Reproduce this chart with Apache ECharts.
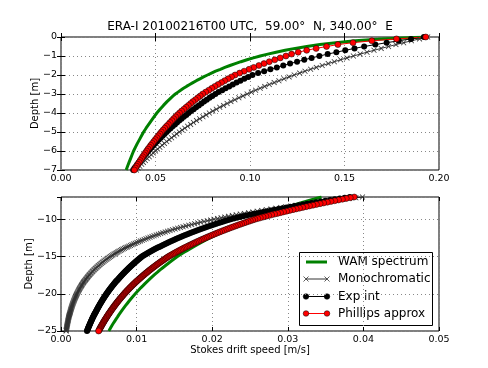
<!DOCTYPE html>
<html>
<head>
<meta charset="UTF-8">
<title>Stokes drift profiles</title>
<script src="https://cdn.jsdelivr.net/npm/echarts@6.0.0/dist/echarts.min.js"></script>
<style>
* { padding: 0; margin: 0; }
#main { width: 488px; height: 368px; }
</style>
</head>
<body>
<div id="main"></div>
<script>
// depth levels [m]
var depthTop = [
  0, -0.1, -0.2, -0.3, -0.4, -0.5, -0.6, -0.7, -0.8, -0.9,
  -1, -1.1, -1.2, -1.3, -1.4, -1.5, -1.6, -1.7, -1.8, -1.9,
  -2, -2.1, -2.2, -2.3, -2.4, -2.5, -2.6, -2.7, -2.8, -2.9,
  -3, -3.1, -3.2, -3.3, -3.4, -3.5, -3.6, -3.7, -3.8, -3.9,
  -4, -4.1, -4.2, -4.3, -4.4, -4.5, -4.6, -4.7, -4.8, -4.9,
  -5, -5.1, -5.2, -5.3, -5.4, -5.5, -5.6, -5.7, -5.8, -5.9,
  -6, -6.1, -6.2, -6.3, -6.4, -6.5, -6.6, -6.7, -6.8, -6.9,
  -7
];
var depthBottom = [
  -7, -7.1, -7.2, -7.3, -7.4, -7.5, -7.6, -7.7, -7.8, -7.9,
  -8, -8.1, -8.2, -8.3, -8.4, -8.5, -8.6, -8.7, -8.8, -8.9,
  -9, -9.1, -9.2, -9.3, -9.4, -9.5, -9.6, -9.7, -9.8, -9.9,
  -10, -10.1, -10.2, -10.3, -10.4, -10.5, -10.6, -10.7, -10.8, -10.9,
  -11, -11.1, -11.2, -11.3, -11.4, -11.5, -11.6, -11.7, -11.8, -11.9,
  -12, -12.1, -12.2, -12.3, -12.4, -12.5, -12.6, -12.7, -12.8, -12.9,
  -13, -13.1, -13.2, -13.3, -13.4, -13.5, -13.6, -13.7, -13.8, -13.9,
  -14, -14.1, -14.2, -14.3, -14.4, -14.5, -14.6, -14.7, -14.8, -14.9,
  -15, -15.1, -15.2, -15.3, -15.4, -15.5, -15.6, -15.7, -15.8, -15.9,
  -16, -16.1, -16.2, -16.3, -16.4, -16.5, -16.6, -16.7, -16.8, -16.9,
  -17, -17.1, -17.2, -17.3, -17.4, -17.5, -17.6, -17.7, -17.8, -17.9,
  -18, -18.1, -18.2, -18.3, -18.4, -18.5, -18.6, -18.7, -18.8, -18.9,
  -19, -19.1, -19.2, -19.3, -19.4, -19.5, -19.6, -19.7, -19.8, -19.9,
  -20, -20.1, -20.2, -20.3, -20.4, -20.5, -20.6, -20.7, -20.8, -20.9,
  -21, -21.1, -21.2, -21.3, -21.4, -21.5, -21.6, -21.7, -21.8, -21.9,
  -22, -22.1, -22.2, -22.3, -22.4, -22.5, -22.6, -22.7, -22.8, -22.9,
  -23, -23.1, -23.2, -23.3, -23.4, -23.5, -23.6, -23.7, -23.8, -23.9,
  -24, -24.1, -24.2, -24.3, -24.4, -24.5, -24.6, -24.7, -24.8, -24.9,
  -25
];

// Stokes drift speed [m/s], upper panel (0 to -7 m)
var wamTop = [
  0.1930, 0.1695, 0.1557, 0.1454, 0.1370, 0.1300, 0.1239, 0.1186, 0.1138, 0.1094,
  0.1054, 0.1018, 0.0984, 0.0952, 0.0922, 0.0894, 0.0867, 0.0843, 0.0818, 0.0796,
  0.0775, 0.0754, 0.0735, 0.0716, 0.0698, 0.0681, 0.0664, 0.0648, 0.0633, 0.0619,
  0.0605, 0.0593, 0.0582, 0.0572, 0.0561, 0.0551, 0.0542, 0.0533, 0.0524, 0.0515,
  0.0507, 0.0500, 0.0492, 0.0485, 0.0478, 0.0471, 0.0464, 0.0457, 0.0450, 0.0443,
  0.0437, 0.0431, 0.0426, 0.0420, 0.0415, 0.0410, 0.0404, 0.0399, 0.0394, 0.0389,
  0.0384, 0.0380, 0.0376, 0.0372, 0.0368, 0.0364, 0.0360, 0.0356, 0.0352, 0.0348,
  0.0345
];
var monoTop = [
  0.1940, 0.1897, 0.1854, 0.1813, 0.1772, 0.1733, 0.1694, 0.1656, 0.1619, 0.1583,
  0.1547, 0.1513, 0.1479, 0.1446, 0.1414, 0.1382, 0.1351, 0.1321, 0.1291, 0.1263,
  0.1234, 0.1207, 0.1180, 0.1153, 0.1128, 0.1102, 0.1078, 0.1054, 0.1030, 0.1007,
  0.0985, 0.0963, 0.0941, 0.0920, 0.0899, 0.0879, 0.0860, 0.0840, 0.0822, 0.0803,
  0.0785, 0.0768, 0.0751, 0.0734, 0.0717, 0.0701, 0.0686, 0.0670, 0.0655, 0.0641,
  0.0626, 0.0612, 0.0599, 0.0585, 0.0572, 0.0559, 0.0547, 0.0535, 0.0523, 0.0511,
  0.0500, 0.0488, 0.0478, 0.0467, 0.0456, 0.0446, 0.0436, 0.0427, 0.0417, 0.0408,
  0.0399
];
var expTop = [
  0.1920, 0.1852, 0.1787, 0.1723, 0.1663, 0.1604, 0.1553, 0.1504, 0.1457, 0.1411,
  0.1367, 0.1326, 0.1287, 0.1249, 0.1212, 0.1176, 0.1142, 0.1108, 0.1075, 0.1043,
  0.1013, 0.0991, 0.0970, 0.0949, 0.0929, 0.0909, 0.0890, 0.0871, 0.0853, 0.0834,
  0.0817, 0.0801, 0.0786, 0.0771, 0.0757, 0.0743, 0.0729, 0.0715, 0.0702, 0.0688,
  0.0675, 0.0663, 0.0650, 0.0638, 0.0626, 0.0614, 0.0603, 0.0591, 0.0580, 0.0569,
  0.0559, 0.0548, 0.0538, 0.0528, 0.0518, 0.0508, 0.0498, 0.0489, 0.0480, 0.0471,
  0.0462, 0.0453, 0.0445, 0.0436, 0.0428, 0.0420, 0.0412, 0.0404, 0.0397, 0.0389,
  0.0382
];
var phillipsTop = [
  0.1930, 0.1775, 0.1645, 0.1545, 0.1465, 0.1405, 0.1350, 0.1300, 0.1255, 0.1220,
  0.1190, 0.1160, 0.1131, 0.1102, 0.1074, 0.1047, 0.1020, 0.0995, 0.0969, 0.0945,
  0.0921, 0.0902, 0.0884, 0.0866, 0.0849, 0.0831, 0.0814, 0.0798, 0.0782, 0.0766,
  0.0750, 0.0737, 0.0724, 0.0711, 0.0698, 0.0686, 0.0674, 0.0662, 0.0650, 0.0638,
  0.0627, 0.0616, 0.0606, 0.0596, 0.0587, 0.0577, 0.0568, 0.0558, 0.0549, 0.0540,
  0.0531, 0.0523, 0.0515, 0.0507, 0.0499, 0.0491, 0.0483, 0.0475, 0.0468, 0.0460,
  0.0453, 0.0446, 0.0439, 0.0432, 0.0426, 0.0419, 0.0413, 0.0406, 0.0400, 0.0394,
  0.0388
];

// lower panel (-7 to -25 m)
var wamBottom = [
  0.03446, 0.03410, 0.03374, 0.03339, 0.03304, 0.03270, 0.03236, 0.03202, 0.03168, 0.03136,
  0.03103, 0.03071, 0.03038, 0.03007, 0.02975, 0.02944, 0.02913, 0.02883, 0.02853, 0.02823,
  0.02793, 0.02764, 0.02735, 0.02707, 0.02678, 0.02651, 0.02623, 0.02596, 0.02568, 0.02542,
  0.02515, 0.02491, 0.02466, 0.02442, 0.02418, 0.02395, 0.02371, 0.02348, 0.02325, 0.02303,
  0.02280, 0.02258, 0.02236, 0.02214, 0.02192, 0.02171, 0.02150, 0.02129, 0.02108, 0.02088,
  0.02067, 0.02047, 0.02027, 0.02008, 0.01988, 0.01969, 0.01949, 0.01930, 0.01911, 0.01893,
  0.01874, 0.01856, 0.01838, 0.01820, 0.01802, 0.01785, 0.01767, 0.01750, 0.01733, 0.01716,
  0.01699, 0.01683, 0.01666, 0.01650, 0.01634, 0.01618, 0.01602, 0.01587, 0.01571, 0.01556,
  0.01540, 0.01527, 0.01513, 0.01500, 0.01486, 0.01473, 0.01459, 0.01446, 0.01433, 0.01421,
  0.01408, 0.01396, 0.01383, 0.01371, 0.01358, 0.01346, 0.01334, 0.01322, 0.01310, 0.01299,
  0.01287, 0.01276, 0.01264, 0.01253, 0.01241, 0.01230, 0.01219, 0.01208, 0.01197, 0.01187,
  0.01176, 0.01166, 0.01155, 0.01145, 0.01134, 0.01124, 0.01114, 0.01104, 0.01094, 0.01085,
  0.01075, 0.01065, 0.01055, 0.01046, 0.01037, 0.01028, 0.01018, 0.01009, 0.01000, 0.00991,
  0.00982, 0.00974, 0.00965, 0.00957, 0.00948, 0.00940, 0.00931, 0.00923, 0.00915, 0.00907,
  0.00899, 0.00891, 0.00883, 0.00876, 0.00868, 0.00861, 0.00853, 0.00846, 0.00838, 0.00831,
  0.00823, 0.00816, 0.00809, 0.00802, 0.00795, 0.00788, 0.00781, 0.00774, 0.00767, 0.00761,
  0.00754, 0.00748, 0.00741, 0.00735, 0.00728, 0.00722, 0.00715, 0.00709, 0.00703, 0.00697,
  0.00690, 0.00684, 0.00678, 0.00672, 0.00666, 0.00661, 0.00655, 0.00649, 0.00643, 0.00638,
  0.00632
];
var monoBottom = [
  0.03988, 0.03900, 0.03812, 0.03727, 0.03643, 0.03562, 0.03482, 0.03405, 0.03328, 0.03254,
  0.03181, 0.03111, 0.03041, 0.02973, 0.02906, 0.02842, 0.02778, 0.02716, 0.02655, 0.02596,
  0.02538, 0.02482, 0.02426, 0.02372, 0.02318, 0.02267, 0.02216, 0.02167, 0.02118, 0.02071,
  0.02024, 0.01980, 0.01935, 0.01892, 0.01849, 0.01808, 0.01768, 0.01729, 0.01690, 0.01652,
  0.01615, 0.01580, 0.01544, 0.01510, 0.01475, 0.01442, 0.01410, 0.01379, 0.01348, 0.01318,
  0.01288, 0.01260, 0.01231, 0.01204, 0.01177, 0.01151, 0.01125, 0.01100, 0.01075, 0.01051,
  0.01028, 0.01005, 0.00982, 0.00960, 0.00939, 0.00918, 0.00897, 0.00877, 0.00858, 0.00839,
  0.00820, 0.00802, 0.00784, 0.00766, 0.00749, 0.00732, 0.00716, 0.00700, 0.00684, 0.00669,
  0.00654, 0.00640, 0.00625, 0.00611, 0.00597, 0.00584, 0.00571, 0.00558, 0.00546, 0.00534,
  0.00522, 0.00510, 0.00499, 0.00488, 0.00477, 0.00466, 0.00456, 0.00445, 0.00435, 0.00425,
  0.00416, 0.00407, 0.00398, 0.00389, 0.00380, 0.00371, 0.00363, 0.00355, 0.00347, 0.00340,
  0.00332, 0.00324, 0.00317, 0.00310, 0.00303, 0.00296, 0.00290, 0.00283, 0.00277, 0.00271,
  0.00265, 0.00259, 0.00253, 0.00247, 0.00242, 0.00236, 0.00231, 0.00226, 0.00221, 0.00216,
  0.00211, 0.00206, 0.00202, 0.00197, 0.00193, 0.00188, 0.00184, 0.00180, 0.00176, 0.00172,
  0.00169, 0.00165, 0.00161, 0.00157, 0.00154, 0.00150, 0.00147, 0.00144, 0.00141, 0.00137,
  0.00134, 0.00131, 0.00128, 0.00125, 0.00123, 0.00120, 0.00117, 0.00114, 0.00112, 0.00109,
  0.00107, 0.00104, 0.00102, 0.00100, 0.00098, 0.00096, 0.00094, 0.00091, 0.00089, 0.00087,
  0.00086, 0.00084, 0.00082, 0.00080, 0.00078, 0.00076, 0.00075, 0.00073, 0.00071, 0.00069,
  0.00068
];
var expBottom = [
  0.03820, 0.03753, 0.03687, 0.03623, 0.03559, 0.03497, 0.03435, 0.03375, 0.03316, 0.03258,
  0.03200, 0.03144, 0.03089, 0.03035, 0.02982, 0.02930, 0.02878, 0.02828, 0.02778, 0.02729,
  0.02681, 0.02634, 0.02588, 0.02543, 0.02498, 0.02454, 0.02411, 0.02369, 0.02327, 0.02286,
  0.02246, 0.02213, 0.02180, 0.02148, 0.02117, 0.02086, 0.02055, 0.02025, 0.01995, 0.01966,
  0.01937, 0.01908, 0.01880, 0.01852, 0.01825, 0.01798, 0.01772, 0.01746, 0.01720, 0.01695,
  0.01670, 0.01645, 0.01621, 0.01597, 0.01574, 0.01551, 0.01528, 0.01506, 0.01484, 0.01462,
  0.01440, 0.01419, 0.01398, 0.01378, 0.01358, 0.01338, 0.01318, 0.01299, 0.01280, 0.01261,
  0.01242, 0.01224, 0.01206, 0.01188, 0.01171, 0.01154, 0.01137, 0.01120, 0.01103, 0.01087,
  0.01071, 0.01059, 0.01047, 0.01035, 0.01023, 0.01011, 0.01000, 0.00988, 0.00977, 0.00966,
  0.00955, 0.00944, 0.00933, 0.00922, 0.00912, 0.00901, 0.00891, 0.00881, 0.00871, 0.00861,
  0.00851, 0.00841, 0.00832, 0.00822, 0.00813, 0.00803, 0.00794, 0.00785, 0.00776, 0.00767,
  0.00759, 0.00750, 0.00741, 0.00732, 0.00724, 0.00716, 0.00708, 0.00700, 0.00692, 0.00684,
  0.00676, 0.00668, 0.00661, 0.00653, 0.00646, 0.00638, 0.00631, 0.00624, 0.00617, 0.00610,
  0.00603, 0.00596, 0.00590, 0.00583, 0.00576, 0.00570, 0.00564, 0.00557, 0.00551, 0.00545,
  0.00539, 0.00533, 0.00527, 0.00521, 0.00515, 0.00509, 0.00504, 0.00498, 0.00493, 0.00487,
  0.00482, 0.00476, 0.00471, 0.00466, 0.00461, 0.00455, 0.00450, 0.00445, 0.00440, 0.00435,
  0.00431, 0.00426, 0.00421, 0.00416, 0.00412, 0.00407, 0.00403, 0.00398, 0.00394, 0.00389,
  0.00385, 0.00381, 0.00377, 0.00372, 0.00368, 0.00364, 0.00360, 0.00356, 0.00352, 0.00348,
  0.00344
];
var phillipsBottom = [
  0.03879, 0.03826, 0.03773, 0.03722, 0.03671, 0.03621, 0.03571, 0.03523, 0.03474, 0.03427,
  0.03379, 0.03333, 0.03287, 0.03243, 0.03198, 0.03155, 0.03111, 0.03069, 0.03026, 0.02985,
  0.02944, 0.02904, 0.02864, 0.02825, 0.02786, 0.02748, 0.02710, 0.02673, 0.02636, 0.02601,
  0.02565, 0.02535, 0.02505, 0.02476, 0.02447, 0.02419, 0.02390, 0.02362, 0.02334, 0.02307,
  0.02279, 0.02253, 0.02226, 0.02200, 0.02174, 0.02149, 0.02124, 0.02099, 0.02074, 0.02050,
  0.02026, 0.02003, 0.01979, 0.01956, 0.01932, 0.01910, 0.01887, 0.01865, 0.01843, 0.01822,
  0.01800, 0.01779, 0.01758, 0.01738, 0.01717, 0.01697, 0.01677, 0.01658, 0.01638, 0.01619,
  0.01600, 0.01582, 0.01563, 0.01545, 0.01526, 0.01509, 0.01491, 0.01474, 0.01456, 0.01439,
  0.01422, 0.01407, 0.01392, 0.01378, 0.01363, 0.01349, 0.01335, 0.01321, 0.01307, 0.01293,
  0.01279, 0.01266, 0.01253, 0.01240, 0.01226, 0.01214, 0.01201, 0.01188, 0.01175, 0.01163,
  0.01151, 0.01139, 0.01127, 0.01115, 0.01103, 0.01092, 0.01080, 0.01069, 0.01057, 0.01046,
  0.01035, 0.01024, 0.01013, 0.01003, 0.00992, 0.00982, 0.00971, 0.00961, 0.00951, 0.00941,
  0.00931, 0.00921, 0.00911, 0.00902, 0.00892, 0.00883, 0.00873, 0.00864, 0.00855, 0.00846,
  0.00837, 0.00829, 0.00820, 0.00812, 0.00803, 0.00795, 0.00786, 0.00778, 0.00770, 0.00762,
  0.00754, 0.00746, 0.00738, 0.00731, 0.00723, 0.00716, 0.00708, 0.00701, 0.00694, 0.00687,
  0.00679, 0.00672, 0.00665, 0.00659, 0.00652, 0.00645, 0.00638, 0.00632, 0.00625, 0.00619,
  0.00612, 0.00606, 0.00600, 0.00594, 0.00587, 0.00581, 0.00575, 0.00569, 0.00563, 0.00558,
  0.00552, 0.00546, 0.00540, 0.00535, 0.00529, 0.00524, 0.00518, 0.00513, 0.00508, 0.00503,
  0.00497
];

var seriesNames = ['WAM spectrum', 'Monochromatic', 'Exp int', 'Phillips approx'];
var titleText = 'ERA-I 20100216T00 UTC,  59.00\u00b0  N, 340.00\u00b0  E';

var font = 'DejaVu Sans';
var crossPath = 'path://M0,1L1,0L5,4L9,0L10,1L6,5L10,9L9,10L5,6L1,10L0,9L4,5Z';

function pairs(xs, ds) {
  return ds.map(function (d, i) { return [xs[i], d]; });
}
function fmtX(v) { return v.toFixed(2); }
function fmtY(v) { return v < 0 ? '\u2212' + Math.abs(v) : String(v); }

function curves(idx, depth, wam, mono, expi, phil) {
  var base = { type: 'line', xAxisIndex: idx, yAxisIndex: idx, silent: true, clip: true };
  return [
    Object.assign({}, base, {
      name: seriesNames[0], data: pairs(wam, depth), showSymbol: false,
      lineStyle: { color: '#008000', width: 3 }
    }),
    Object.assign({}, base, {
      name: seriesNames[1], data: pairs(mono, depth), symbol: crossPath, symbolSize: 5.5,
      itemStyle: { color: '#333' }, lineStyle: { color: '#000', width: 0.8 }
    }),
    Object.assign({}, base, {
      name: seriesNames[2], data: pairs(expi, depth), symbol: 'circle', symbolSize: 6,
      itemStyle: { color: '#000' }, lineStyle: { color: '#000', width: 1 }
    }),
    Object.assign({}, base, {
      name: seriesNames[3], data: pairs(phil, depth), symbol: 'circle', symbolSize: 6,
      itemStyle: { color: '#ff0000', borderColor: '#000', borderWidth: 0.5 },
      lineStyle: { color: '#ff0000', width: 1 }
    })
  ];
}

function xAxis(grid, max, interval, pos, labels, name) {
  return {
    type: 'value', gridIndex: grid, position: pos, min: 0, max: max, interval: interval,
    name: name || '', nameLocation: 'middle', nameGap: 14, nameMoveOverlap: false,
    nameTextStyle: { fontFamily: font, fontSize: 10, color: '#000' },
    axisLine: { show: false },
    axisTick: { show: true, inside: true, length: 4, lineStyle: { color: '#000' } },
    axisLabel: { show: labels, formatter: fmtX, margin: 4, fontFamily: font, fontSize: 9.5, color: '#000' },
    splitLine: { show: labels, lineStyle: { color: '#888', type: [1, 3], width: 1 } }
  };
}
function yAxis(grid, min, max, interval, pos, labels, gap) {
  return {
    type: 'value', gridIndex: grid, position: pos, min: min, max: max, interval: interval,
    name: labels ? 'Depth [m]' : '', nameLocation: 'middle', nameGap: gap, nameMoveOverlap: false,
    nameTextStyle: { fontFamily: font, fontSize: 10, color: '#000' },
    axisLine: { show: false },
    axisTick: { show: true, inside: true, length: 4, lineStyle: { color: '#000' } },
    axisLabel: { show: labels, formatter: fmtY, margin: 4, showMaxLabel: grid === 0, fontFamily: font, fontSize: 9.5, color: '#000' },
    splitLine: { show: labels, lineStyle: { color: '#888', type: [1, 3], width: 1 } }
  };
}

// legend drawn as graphics so each handle has a marker at both ends
var legendRows = [262, 279, 296.5, 313.5];
var lx0 = 306, lx1 = 327;
var legendEls = [
  { type: 'rect', shape: { x: 299.5, y: 252.5, width: 133, height: 73 },
    style: { fill: '#fff', stroke: '#000', lineWidth: 1 } }
];
legendRows.forEach(function (y, i) {
  if (i === 0) {
    legendEls.push({ type: 'line', shape: { x1: lx0, y1: y, x2: lx1, y2: y }, style: { stroke: '#008000', lineWidth: 3 } });
  } else if (i === 1) {
    legendEls.push({ type: 'line', shape: { x1: lx0, y1: y, x2: lx1, y2: y }, style: { stroke: '#000', lineWidth: 0.8 } });
    [lx0, lx1].forEach(function (x) {
      legendEls.push({ type: 'line', shape: { x1: x - 2.5, y1: y - 2.5, x2: x + 2.5, y2: y + 2.5 }, style: { stroke: '#333', lineWidth: 0.8 } });
      legendEls.push({ type: 'line', shape: { x1: x - 2.5, y1: y + 2.5, x2: x + 2.5, y2: y - 2.5 }, style: { stroke: '#333', lineWidth: 0.8 } });
    });
  } else {
    var c = i === 2 ? '#000' : '#ff0000';
    legendEls.push({ type: 'line', shape: { x1: lx0, y1: y, x2: lx1, y2: y }, style: { stroke: c, lineWidth: 1 } });
    [lx0, lx1].forEach(function (x) {
      legendEls.push({ type: 'circle', shape: { cx: x, cy: y, r: 2.8 }, style: { fill: c, stroke: '#000', lineWidth: 0.5 } });
    });
  }
  legendEls.push({ type: 'text', x: 338, y: y,
    style: { text: seriesNames[i], fontFamily: font, fontSize: 12, fill: '#000', verticalAlign: 'middle', align: 'left' } });
});

var chart = echarts.init(document.getElementById('main'));
chart.setOption({
  animation: false,
  backgroundColor: '#fff',
  title: {
    text: titleText, left: 250, top: 27, padding: 0,
    textAlign: 'center', textVerticalAlign: 'middle',
    textStyle: { fontFamily: font, fontSize: 12, fontWeight: 'normal', color: '#000' }
  },
  grid: [
    { left: 61, top: 37, width: 378, height: 133, show: true, borderColor: '#000', borderWidth: 1, backgroundColor: 'transparent', outerBoundsMode: 'none' },
    { left: 61, top: 197, width: 378, height: 134, show: true, borderColor: '#000', borderWidth: 1, backgroundColor: 'transparent', outerBoundsMode: 'none' }
  ],
  xAxis: [
    xAxis(0, 0.2, 0.05, 'bottom', true),
    xAxis(1, 0.05, 0.01, 'bottom', true, 'Stokes drift speed [m/s]'),
    xAxis(0, 0.2, 0.05, 'top', false),
    xAxis(1, 0.05, 0.01, 'top', false)
  ],
  yAxis: [
    yAxis(0, -7, 0, 1, 'left', true, 21),
    yAxis(1, -25, -7, 5, 'left', true, 27),
    yAxis(0, -7, 0, 1, 'right', false, 0),
    yAxis(1, -25, -7, 5, 'right', false, 0)
  ],
  series: curves(0, depthTop, wamTop, monoTop, expTop, phillipsTop)
    .concat(curves(1, depthBottom, wamBottom, monoBottom, expBottom, phillipsBottom)),
  graphic: legendEls
});
</script>
</body>
</html>
